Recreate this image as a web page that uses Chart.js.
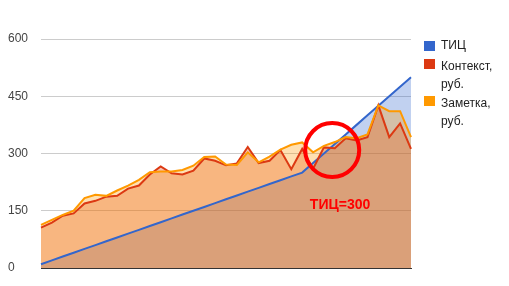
<!DOCTYPE html>
<html>
<head>
<meta charset="utf-8">
<script src="https://cdn.jsdelivr.net/npm/chart.js@4.4.1/dist/chart.umd.min.js"></script>
<style>
    html, body { margin: 0; padding: 0; background: #fff; }
    #wrap { position: relative; width: 509px; height: 286px; }
    #legend { position: absolute; left: 424px; top: 0; font: 12px Arial, "Liberation Sans", sans-serif; color: #222; }
    .legend-item { position: absolute; left: 0; width: 80px; }
    .legend-box { position: absolute; left: 0; width: 11px; height: 10px; }
    .legend-text { position: absolute; left: 17px; width: 62px; line-height: 18px; }
</style>
</head>
<body>
<div id="wrap">
    <canvas id="chart" width="509" height="286"></canvas>
    <div id="legend"></div>
</div>
<script>
const labels = [
    "1", "2", "3", "4", "5", "6", "7", "8", "9", "10",
    "11", "12", "13", "14", "15", "16", "17", "18", "19", "20",
    "21", "22", "23", "24", "25", "26", "27", "28", "29", "30",
    "31", "32", "33", "34", "35"
];

const seriesNames = ["ТИЦ", "Контекст, руб.", "Заметка, руб."];

const ticValues = [
    10, 20, 30, 40, 50, 60, 70, 80, 90, 100,
    110, 120, 130, 140, 150, 160, 170, 180, 190, 200,
    210, 220, 230, 240, 250, 275, 300, 325, 350, 375,
    400, 425, 450, 475, 500
];

const contextValues = [
    106, 119, 137, 143, 169, 176, 187, 189, 208, 216,
    245, 266, 248, 245, 255, 287, 281, 269, 274, 317,
    275, 281, 309, 259, 312, 260, 316, 314, 340, 334,
    343, 426, 343, 379, 312
];

const noteValues = [
    113, 126, 139, 150, 183, 192, 189, 203, 216, 231,
    251, 253, 253, 257, 268, 291, 292, 271, 270, 303,
    277, 292, 310, 323, 329, 303, 320, 330, 343, 340,
    350, 426, 411, 411, 343
];

const yTicks = [0, 150, 300, 450, 600];

const calloutText = "ТИЦ=300";
const circleAt = [26.76, 309];
const textAt = [27.48, 166];

const lineColors = ["#3366cc", "#dc3912", "#ff9900"];
const fillColors = ["rgba(51,102,204,0.3)", "rgba(220,57,18,0.3)", "rgba(255,153,0,0.3)"];


const calloutPlugin = {
    id: "callout",
    afterDatasetsDraw: function (chart) {
        const ctx = chart.ctx;
        const xScale = chart.scales.x;
        const yScale = chart.scales.y;

        ctx.save();
        ctx.strokeStyle = "#ff0000";
        ctx.lineWidth = 4;
        ctx.beginPath();
        ctx.arc(
            xScale.getPixelForValue(circleAt[0]),
            yScale.getPixelForValue(circleAt[1]),
            27, 0, Math.PI * 2
        );
        ctx.stroke();

        ctx.fillStyle = "#ff0000";
        ctx.font = "bold 14px Arial, 'Liberation Sans', sans-serif";
        ctx.textAlign = "center";
        ctx.textBaseline = "middle";
        ctx.fillText(
            calloutText,
            xScale.getPixelForValue(textAt[0]),
            yScale.getPixelForValue(textAt[1])
        );
        ctx.restore();
    }
};


const allSeries = [ticValues, contextValues, noteValues];

const datasets = allSeries.map(function (values, index) {
    return {
        label: seriesNames[index],
        data: values,
        borderColor: lineColors[index],
        backgroundColor: fillColors[index],
        borderWidth: 2,
        pointRadius: 0,
        tension: 0,
        fill: "origin",
        order: 3 - index
    };
});


new Chart(document.getElementById("chart"), {
    type: "line",
    data: {
        labels: labels,
        datasets: datasets
    },
    options: {
        responsive: false,
        animation: false,
        devicePixelRatio: 1,
        layout: {
            padding: { left: 8, right: 98, top: 39, bottom: 18 }
        },
        plugins: {
            legend: { display: false },
            tooltip: { enabled: false },
            filler: { drawTime: "beforeDatasetsDraw" }
        },
        scales: {
            x: {
                offset: false,
                ticks: { display: false },
                grid: { display: false, drawTicks: false },
                border: { display: true, color: "#333", width: 1 }
            },
            y: {
                min: 0,
                max: 600,
                afterBuildTicks: function (scale) {
                    scale.ticks = yTicks.map(function (v) { return { value: v }; });
                },
                afterFit: function (scale) {
                    scale.width = 33;
                },
                ticks: {
                    crossAlign: "far",
                    color: "#444",
                    font: { family: "Arial, 'Liberation Sans', sans-serif", size: 12 }
                },
                grid: { color: "#cccccc", drawTicks: false },
                border: { display: false }
            }
        }
    },
    plugins: [calloutPlugin]
});


const legend = document.getElementById("legend");
const legendTops = [36, 57, 94];
const boxTops = [5, 2, 2];

seriesNames.forEach(function (name, index) {
    const item = document.createElement("div");
    item.className = "legend-item";
    item.style.top = legendTops[index] + "px";

    const box = document.createElement("div");
    box.className = "legend-box";
    box.style.top = boxTops[index] + "px";
    box.style.background = lineColors[index];

    const text = document.createElement("div");
    text.className = "legend-text";
    text.textContent = name;

    item.appendChild(box);
    item.appendChild(text);
    legend.appendChild(item);
});
</script>
</body>
</html>
